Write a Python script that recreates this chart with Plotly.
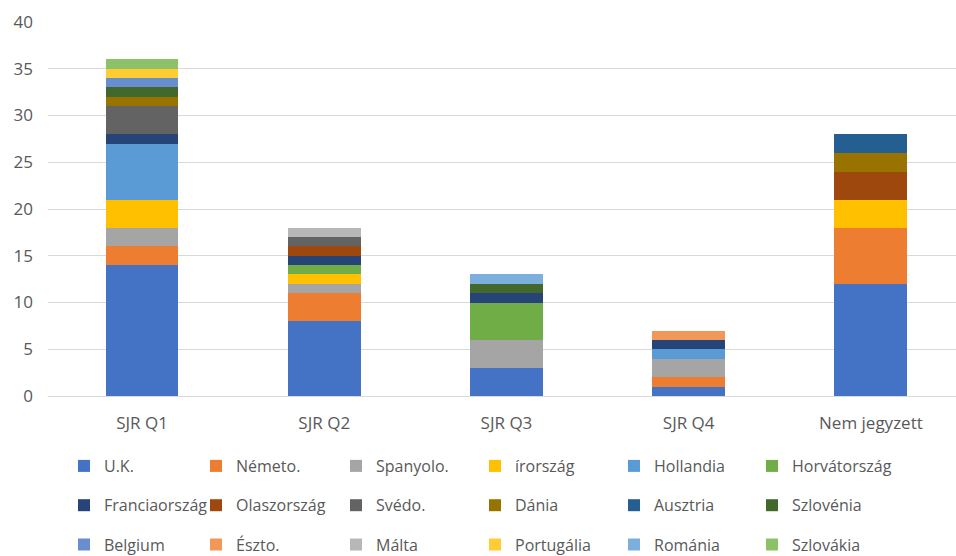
import plotly.graph_objects as go

categories = ["SJR Q1", "SJR Q2", "SJR Q3", "SJR Q4", "Nem jegyzett"]

series_names = ["U.K.", "Németo.", "Spanyolo.", "írország", "Hollandia", "Horvátország",
                "Franciaország", "Olaszország", "Svédo.", "Dánia", "Ausztria", "Szlovénia",
                "Belgium", "Észto.", "Málta", "Portugália", "Románia", "Szlovákia"]

uk = [14, 8, 3, 1, 12]
nemeto = [2, 3, 0, 1, 6]
spanyolo = [2, 1, 3, 2, 0]
irorszag = [3, 1, 0, 0, 3]
hollandia = [6, 0, 0, 1, 0]
horvatorszag = [0, 1, 4, 0, 0]
franciaorszag = [1, 1, 1, 1, 0]
olaszorszag = [0, 1, 0, 0, 3]
svedo = [3, 1, 0, 0, 0]
dania = [1, 0, 0, 0, 2]
ausztria = [0, 0, 0, 0, 2]
szlovenia = [1, 0, 1, 0, 0]
belgium = [1, 0, 0, 0, 0]
eszto = [0, 0, 0, 1, 0]
malta = [0, 1, 0, 0, 0]
portugalia = [1, 0, 0, 0, 0]
romania = [0, 0, 1, 0, 0]
szlovakia = [1, 0, 0, 0, 0]

series_values = [uk, nemeto, spanyolo, irorszag, hollandia, horvatorszag,
                 franciaorszag, olaszorszag, svedo, dania, ausztria, szlovenia,
                 belgium, eszto, malta, portugalia, romania, szlovakia]

colors = ["#4472C4", "#ED7D31", "#A5A5A5", "#FFC000", "#5B9BD5", "#70AD47",
          "#264478", "#9E480E", "#636363", "#997300", "#255E91", "#43682B",
          "#698ED0", "#F1975A", "#B7B7B7", "#FFCD33", "#7CAFDD", "#8CC168"]

FONT = "Open Sans"
TXT = "#595959"

# one vertical legend per column (6 columns x 3 rows)
legend_ids = ["legend", "legend2", "legend3", "legend4", "legend5", "legend6"]
col_legend_x = [64, 196, 336, 475, 614, 752]

fig = go.Figure()
for i, (name, vals) in enumerate(zip(series_names, series_values)):
    fig.add_trace(go.Bar(
        x=categories, y=vals, name=name,
        marker=dict(color=colors[i], line=dict(width=0)),
        legend=legend_ids[i % 6], legendgroup=name,
    ))

legend_common = dict(
    orientation="v", xref="container", yref="container",
    xanchor="left", yanchor="top",
    font=dict(family=FONT, size=16, color=TXT),
    bgcolor="rgba(0,0,0,0)", itemclick=False, itemdoubleclick=False,
    traceorder="grouped", tracegroupgap=15.5,
)
layout_legends = {}
for lid, lx in zip(legend_ids, col_legend_x):
    layout_legends[lid] = dict(legend_common, x=lx / 956, y=1 - 449 / 556)

fig.update_layout(
    width=956, height=556,
    margin=dict(l=48, r=0, t=22, b=160, autoexpand=False),
    barmode="stack", bargap=0.6,
    paper_bgcolor="white", plot_bgcolor="white",
    font=dict(family=FONT, size=17, color=TXT),
    showlegend=True,
    xaxis=dict(range=[-0.516, 4.467], showgrid=False, showline=False, ticks="",
               automargin=False,
               tickfont=dict(family=FONT, size=17, color=TXT), ticklabelstandoff=15),
    yaxis=dict(range=[0, 40], dtick=5, showgrid=True, gridcolor="#D9D9D9", gridwidth=1,
               zeroline=True, zerolinecolor="#D9D9D9", zerolinewidth=1,
               showline=False, ticks="", automargin=False,
               tickfont=dict(family=FONT, size=17, color=TXT), ticklabelstandoff=14),
    **layout_legends,
)

fig.write_html("out.html", config={"displayModeBar": False},
               post_script="document.body.style.margin='0px';")
